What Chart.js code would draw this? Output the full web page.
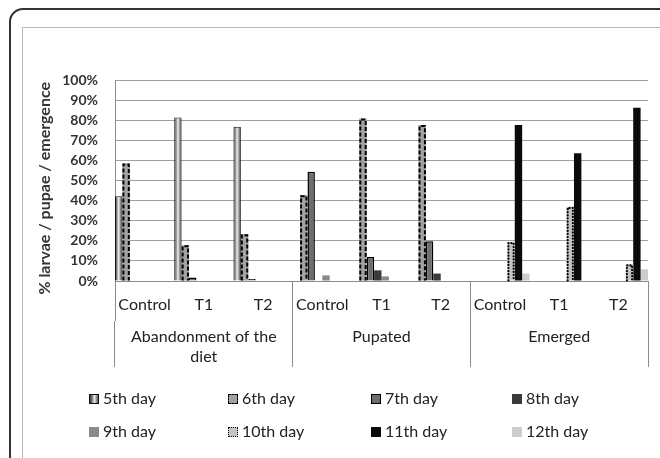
<!DOCTYPE html>
<html><head><meta charset="utf-8">
<script src="https://cdn.jsdelivr.net/npm/chart.js@4"></script>
<style>
html,body{margin:0;padding:0;background:#fff;}
#wrap{position:relative;width:660px;height:458px;overflow:hidden;background:#fff;font-family:Lato,"Open Sans",sans-serif;}
#frame{position:absolute;left:9px;top:8px;width:700px;height:520px;border:2px solid #333;border-radius:14px;box-sizing:border-box;}
#inner{position:absolute;left:22px;top:27px;width:700px;height:520px;border:1px solid #b8b8b8;box-sizing:border-box;}
canvas{position:absolute;left:0;top:0;}
.lg{position:absolute;font-size:16px;color:#222;line-height:18px;white-space:nowrap;}
.lg i{display:inline-block;width:10px;height:10px;box-sizing:border-box;vertical-align:0px;margin-right:4px;}
</style></head>
<body>
<div id="wrap">
<div id="frame"></div>
<div id="inner"></div>
<canvas id="c" width="660" height="458"></canvas>
<div id="legend"></div>
</div>
<script>
const categories = ["Control","T1","T2","Control","T1","T2","Control","T1","T2"];
const groups = [["Abandonment of the","diet"],"Pupated","Emerged"];
const seriesNames = ["5th day","6th day","7th day","8th day","9th day","10th day","11th day","12th day"];
const day5  = [42.2, 81.4, 76.7, 0, 0, 0, 0, 0, 0];
const day6  = [58.5, 17.8, 23.3, 42.7, 80.9, 77.6, 0, 0, 0];
const day7  = [0, 1.7, 1.0, 54.3, 12.0, 19.8, 0, 0, 0];
const day8  = [0, 0, 0, 0, 5.3, 3.7, 0, 0, 0];
const day9  = [0, 0, 0, 2.8, 2.3, 0, 0, 0, 0];
const day10 = [0, 0, 0, 0, 0, 0, 19.4, 36.9, 8.3];
const day11 = [0, 0, 0, 0, 0, 0, 77.6, 63.5, 86.2];
const day12 = [0, 0, 0, 0, 0, 0, 3.7, 0, 5.8];
const yTickValues = [0,10,20,30,40,50,60,70,80,90,100];
const yTitle = "% larvae / pupae / emergence";

function cylGradient(c){
  const chart = c.chart;
  const xs = chart.scales.x;
  if (!xs || c.type !== 'data' || !isFinite(xs.width) || xs.width <= 0) return '#999';
  const catW = xs.width / categories.length;
  const bw = catW / seriesNames.length;
  const left = xs.getPixelForValue(c.dataIndex) - catW/2 + c.datasetIndex*bw;
  const g = chart.ctx.createLinearGradient(left, 0, left + bw, 0);
  g.addColorStop(0, '#3a3a3a');
  g.addColorStop(0.3, '#9a9a9a');
  g.addColorStop(0.5, '#f4f4f4');
  g.addColorStop(0.75, '#8a8a8a');
  g.addColorStop(1, '#2a2a2a');
  return g;
}
const bw = w => (c => (c.raw ? w : 0));

const dashPlugin = {
  id: 'dashBorders',
  afterDatasetsDraw(chart){
    const ctx = chart.ctx;
    chart.data.datasets.forEach((ds, i) => {
      if (!ds.dashPattern) return;
      const meta = chart.getDatasetMeta(i);
      meta.data.forEach(el => {
        const p = el.getProps(['x','y','base','width'], true);
        if (Math.abs(p.base - p.y) < 0.5) return;
        const lw = ds.dashWidth;
        const l = p.x - p.width/2 + lw/2, r = p.x + p.width/2 - lw/2, t = p.y + lw/2;
        ctx.save();
        ctx.beginPath();
        ctx.setLineDash(ds.dashPattern);
        ctx.lineWidth = lw;
        ctx.lineCap = ds.dashCap || 'butt';
        ctx.strokeStyle = '#000';
        ctx.moveTo(l, p.base); ctx.lineTo(l, t); ctx.lineTo(r, t); ctx.lineTo(r, p.base);
        ctx.stroke();
        ctx.restore();
      });
    });
  }
};

const datasets = [
  {label: seriesNames[0], data: day5,  backgroundColor: cylGradient, borderColor:'#111', borderWidth: bw(1)},
  {label: seriesNames[1], data: day6,  backgroundColor: '#a2a2a2', borderWidth:0, dashPattern:[4,2], dashWidth:2},
  {label: seriesNames[2], data: day7,  backgroundColor: '#6e6e6e', borderColor:'#000', borderWidth: bw(1.5)},
  {label: seriesNames[3], data: day8,  backgroundColor: '#3a3a3a', borderWidth:0},
  {label: seriesNames[4], data: day9,  backgroundColor: '#8a8a8a', borderWidth:0},
  {label: seriesNames[5], data: day10, backgroundColor: '#c4c4c4', borderWidth:0, dashPattern:[0.1,3], dashWidth:2.2, dashCap:'round'},
  {label: seriesNames[6], data: day11, backgroundColor: '#0a0a0a', borderWidth:0},
  {label: seriesNames[7], data: day12, backgroundColor: '#cdcdcd', borderWidth:0}
];

Chart.defaults.font.family = 'Lato, "Open Sans", sans-serif';

new Chart(document.getElementById('c'), {
  type: 'bar',
  data: {labels: categories, datasets: datasets},
  options: {
    responsive: false,
    animation: false,
    layout: {padding: {left: 35, right: 12, top: 80, bottom: 91}},
    plugins: {legend: {display: false}, tooltip: {enabled: false}},
    datasets: {bar: {categoryPercentage: 1, barPercentage: 1, borderSkipped: 'start', inflateAmount: 0}},
    scales: {
      x: {
        position: 'bottom', offset: true,
        grid: {offset: true, drawOnChartArea: false, drawTicks: true, tickLength: 40,
               color: c => (c.type !== 'tick' || c.index % 3 === 0) ? '#8c8c8c' : 'rgba(0,0,0,0)', lineWidth: 1},
        border: {display: true, color: '#8c8c8c', width: 1},
        ticks: {autoSkip: false, maxRotation: 0, padding: -26, font: {size: 16}, color: '#222'},
        afterFit(s){ s.height = 40; }
      },
      x2: {
        type: 'category', labels: groups, position: 'bottom', offset: true,
        grid: {offset: true, drawOnChartArea: false, drawTicks: true, tickLength: 46, color: '#8c8c8c', lineWidth: 1},
        border: {display: false},
        ticks: {autoSkip: false, maxRotation: 0, padding: -40, font: {size: 16, lineHeight: 1.25}, color: '#222'},
        afterFit(s){ s.height = 46; }
      },
      y: {
        min: 0, max: 100,
        afterBuildTicks(s){ s.ticks = yTickValues.map(v => ({value: v})); },
        ticks: {callback: v => v + '%', font: {size: 14, weight: 'bold'}, color: '#333', padding: 17},
        grid: {color: '#a0a0a0', drawTicks: false, lineWidth: 1},
        border: {display: true, color: '#8c8c8c', width: 1},
        title: {display: true, text: yTitle + '    ', font: {size: 16, weight: 'bold'}, color: '#333', padding: {top: 0, bottom: 0}},
        afterFit(s){ s.width = 80; }
      }
    }
  },
  plugins: [dashPlugin]
});

// HTML legend (2 rows x 4 columns)
const legendBoxes = [
  'background:linear-gradient(90deg,#333,#aaa 40%,#eee 55%,#555);border:1px solid #111',
  'background:#a2a2a2;border:1.5px dashed #000',
  'background:#6e6e6e;border:1.5px solid #000',
  'background:#3a3a3a',
  'background:#8a8a8a',
  'background:#c4c4c4;border:1.5px dotted #000',
  'background:#0a0a0a',
  'background:#cdcdcd'
];
const colX = [89, 228, 371, 512];
const rowY = [389, 422];
const lg = document.getElementById('legend');
seriesNames.forEach((n, i) => {
  const d = document.createElement('div');
  d.className = 'lg';
  d.style.left = colX[i % 4] + 'px';
  d.style.top = rowY[Math.floor(i / 4)] + 'px';
  d.innerHTML = '<i style="' + legendBoxes[i] + '"></i>' + n;
  lg.appendChild(d);
});
</script>
</body></html>
